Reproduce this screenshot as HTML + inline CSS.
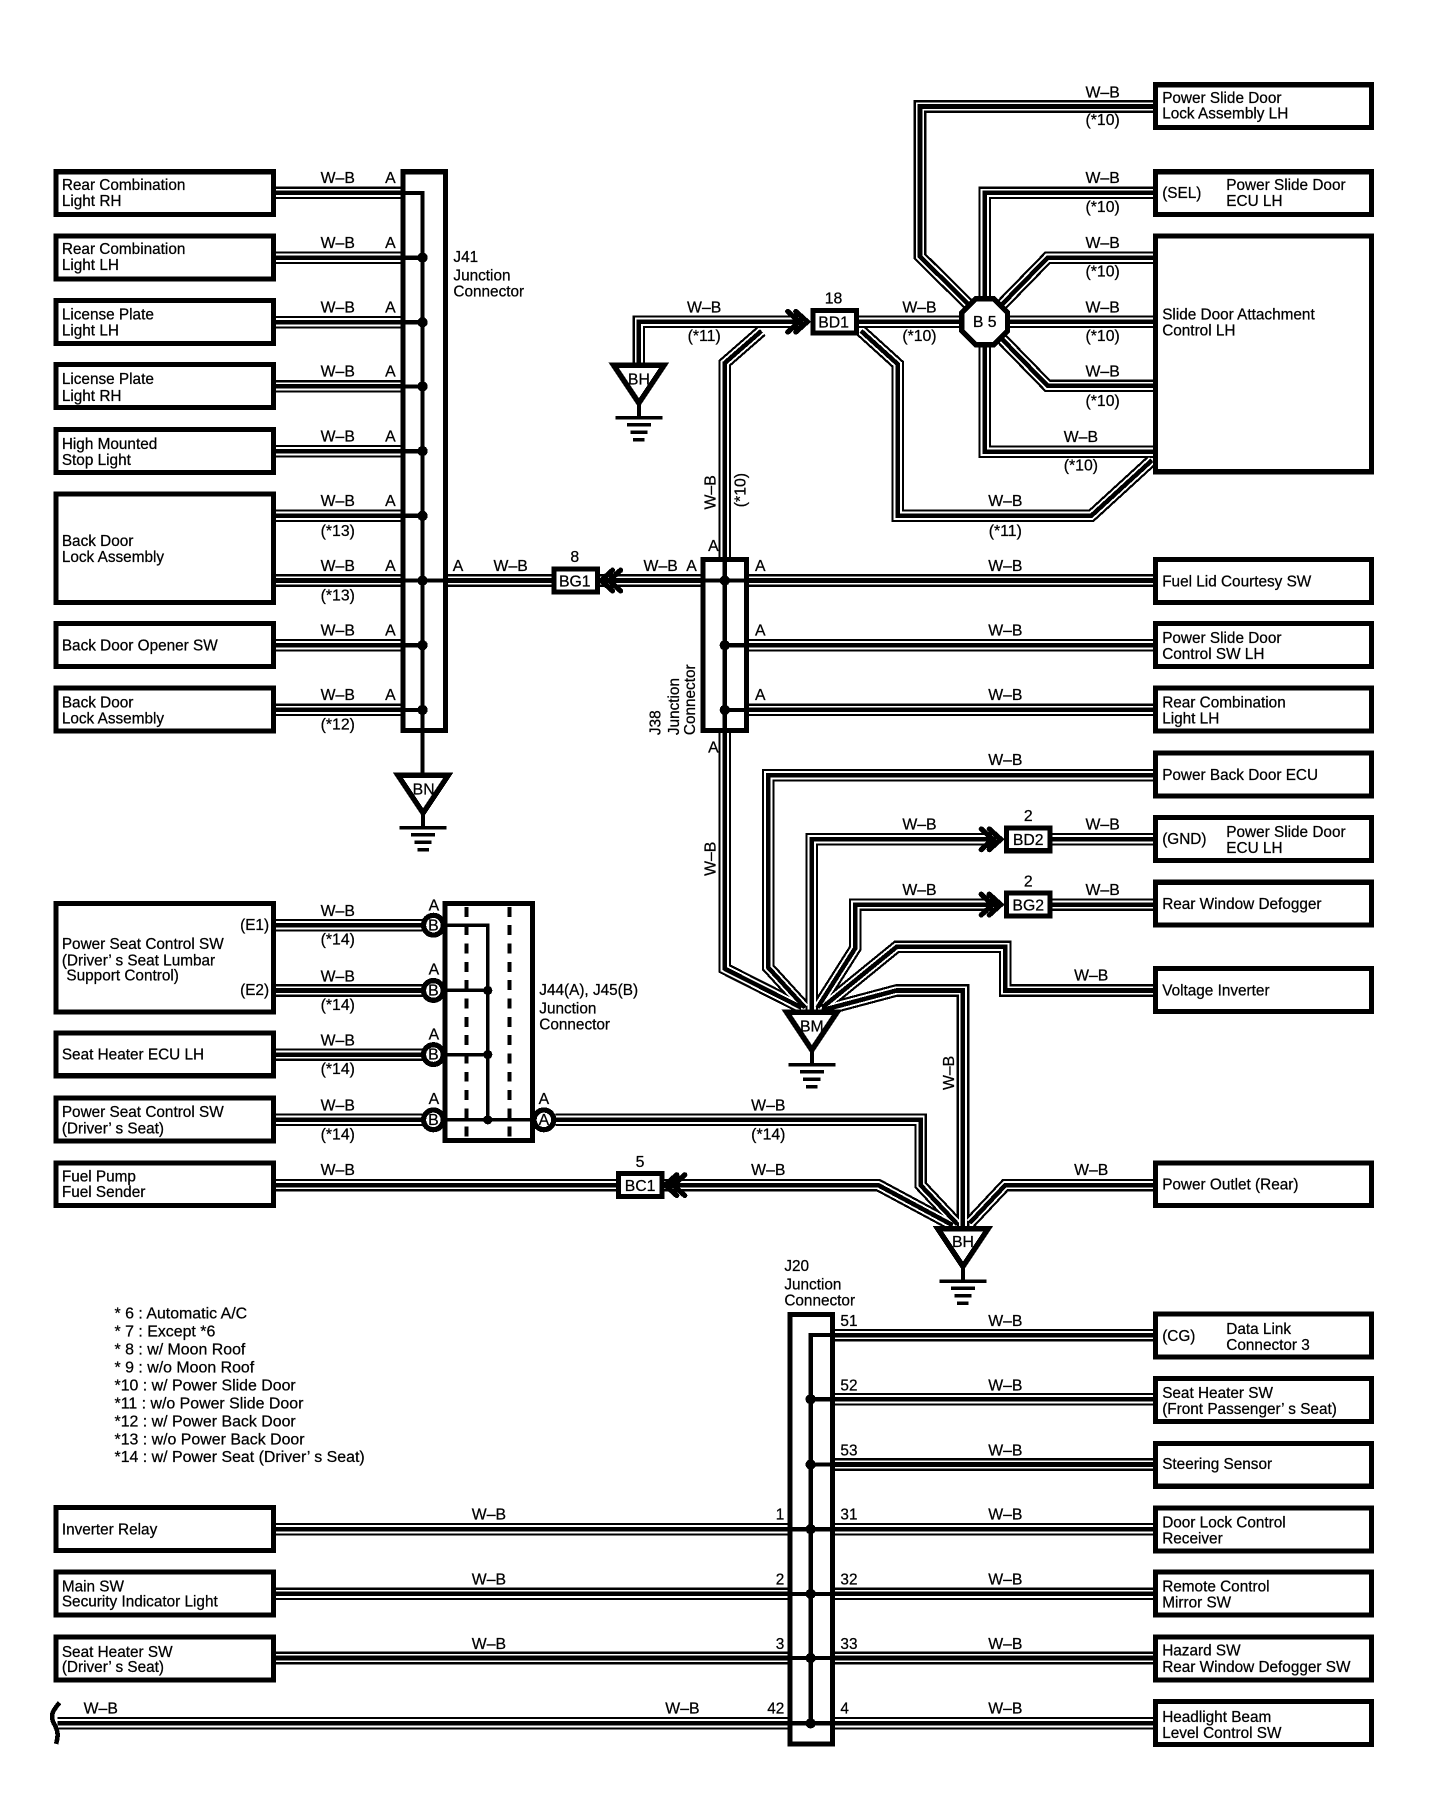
<!DOCTYPE html>
<html><head><meta charset="utf-8"><title>Wiring diagram</title>
<style>
html,body{margin:0;padding:0;background:#fff}
svg{display:block;font-size:13.4px;font-family:"Liberation Sans",sans-serif}
text{font-family:"Liberation Sans",sans-serif;fill:#000;stroke:#000;stroke-width:.22px}
.m{text-anchor:middle;font-size:13.8px}
.e{text-anchor:end}
.b{fill:#fff;stroke:#000;stroke-width:4.4}
.n{fill:none;stroke:#000;stroke-width:3.7}
.t{fill:#fff;stroke:#000;stroke-width:4.8;stroke-linejoin:miter}
.g{fill:none;stroke:#000}
.c{fill:none;stroke:#000;stroke-width:4.6;stroke-linecap:round}
.r{fill:#fff;stroke:#000;stroke-width:4.6}
.l{font-size:13.9px}
</style></head><body>
<svg xmlns="http://www.w3.org/2000/svg" width="1456" height="1796" viewBox="0 0 1271.6 1568.5" preserveAspectRatio="none" shape-rendering="crispEdges">
<defs>
<g id="w" fill="none" stroke-linejoin="miter" stroke-miterlimit="10">
<path d="M239 168.5H352M239 225H352M239 281.5H352M239 337.5H352M239 394H352M239 450.5H352M239 507H352M239 563.5H352M239 620H352"/>
<path d="M389 507H482M522 507H614"/>
<path d="M652 507H1009M652 563.5H1009M652 620H1009"/>
<path d="M558 318V281H700"/>
<path d="M633 488V317L665 289"/>
<path d="M748 281H842M880 281H1009"/>
<path d="M1009 93H803.5V224L845 265"/>
<path d="M1009 168.5H860V262"/>
<path d="M860 300V394.5H1009"/>
<path d="M875 266L915 225H1009"/>
<path d="M875 296L915 337H1009"/>
<path d="M752 289L784 318V450.5H953L1006 402"/>
<path d="M633 638V846L700 880"/>
<path d="M1009 677H671V845L703 880"/>
<path d="M709 882V733H870M917 733H1009"/>
<path d="M714 880L747 828V790H870M917 790H1009"/>
<path d="M718 880L783 827H878V865H1009"/>
<path d="M719 882L783 865H841V1072"/>
<path d="M239 808H370M239 865H370M239 921H370M239 978H370"/>
<path d="M485 978H804V1035L836 1069"/>
<path d="M239 1035H538M578 1035H767L832 1070"/>
<path d="M1009 1035H878L847 1068"/>
<path d="M727 1166H1009M727 1222H1009M727 1279H1009M727 1335.5H1009M727 1392H1009M727 1448H1009M727 1505H1009"/>
<path d="M239 1335.5H690M239 1392H690M239 1448H690M50 1505H690"/>
</g>
<g id="ch">
<path class="c" d="M-17 -9L-7 0L-17 9"/>
<path class="c" d="M-10 -9L0 0L-10 9"/>
</g>
<g id="gnd">
<polygon class="t" points="-22,0 22,0 0,33"/>
<path class="g" stroke-width="3.4" d="M0 33V46"/>
<path class="g" stroke-width="3" d="M-20.5 46H20.5M-10.5 52H10.5M-7.5 58.5H7.5M-5 65H5"/>
</g>
</defs>
<rect x="0" y="0" width="1271.6" height="1568.5" fill="#fff"/>

<use href="#w" stroke="#000" stroke-width="11"/>
<use href="#w" stroke="#fff" stroke-width="7.2"/>
<use href="#w" stroke="#000" stroke-width="4"/>

<!-- left boxes -->
<rect class="b" x="49" y="150" width="190" height="37.5"/>
<rect class="b" x="49" y="206" width="190" height="37.5"/>
<rect class="b" x="49" y="262.5" width="190" height="37.5"/>
<rect class="b" x="49" y="318.5" width="190" height="37.5"/>
<rect class="b" x="49" y="375" width="190" height="37.5"/>
<rect class="b" x="49" y="431.5" width="190" height="94.5"/>
<rect class="b" x="49" y="544.5" width="190" height="37.5"/>
<rect class="b" x="49" y="601" width="190" height="37.5"/>
<rect class="b" x="49" y="789" width="190" height="95"/>
<rect class="b" x="49" y="902" width="190" height="37.5"/>
<rect class="b" x="49" y="959" width="190" height="37.5"/>
<rect class="b" x="49" y="1015.5" width="190" height="37.5"/>
<rect class="b" x="49" y="1316.5" width="190" height="37.5"/>
<rect class="b" x="49" y="1373" width="190" height="37.5"/>
<rect class="b" x="49" y="1429.5" width="190" height="37.5"/>

<!-- right boxes -->
<rect class="b" x="1009" y="74" width="189" height="37.5"/>
<rect class="b" x="1009" y="150" width="189" height="37.5"/>
<rect class="b" x="1009" y="206" width="189" height="206"/>
<rect class="b" x="1009" y="488.5" width="189" height="37.5"/>
<rect class="b" x="1009" y="544.5" width="189" height="37.5"/>
<rect class="b" x="1009" y="601" width="189" height="37.5"/>
<rect class="b" x="1009" y="657.5" width="189" height="37.5"/>
<rect class="b" x="1009" y="714" width="189" height="37.5"/>
<rect class="b" x="1009" y="770.5" width="189" height="37.5"/>
<rect class="b" x="1009" y="846" width="189" height="37.5"/>
<rect class="b" x="1009" y="1015.5" width="189" height="37.5"/>
<rect class="b" x="1009" y="1147.5" width="189" height="37.5"/>
<rect class="b" x="1009" y="1204" width="189" height="37.5"/>
<rect class="b" x="1009" y="1260.5" width="189" height="37.5"/>
<rect class="b" x="1009" y="1317" width="189" height="37.5"/>
<rect class="b" x="1009" y="1373" width="189" height="37.5"/>
<rect class="b" x="1009" y="1429.5" width="189" height="37.5"/>
<rect class="b" x="1009" y="1486" width="189" height="37.5"/>

<!-- J41 -->
<rect class="b" x="352" y="150" width="37" height="488"/>
<path class="n" d="M352 168.5H369V680M352 225H369M352 281.5H369M352 337.5H369M352 394H369M352 450.5H369M352 507H389M352 563.5H369M352 620H369"/>
<g fill="#000">
<circle cx="369" cy="225" r="4.5"/><circle cx="369" cy="281.5" r="4.5"/><circle cx="369" cy="337.5" r="4.5"/><circle cx="369" cy="394" r="4.5"/><circle cx="369" cy="450.5" r="4.5"/><circle cx="369" cy="507" r="4.5"/><circle cx="369" cy="563.5" r="4.5"/><circle cx="369" cy="620" r="4.5"/>
</g>

<!-- J38 -->
<rect class="b" x="614" y="488.5" width="38" height="149.5"/>
<path class="n" d="M633 488V638M614 507H652M633 563.5H652M633 620H652"/>
<g fill="#000"><circle cx="633" cy="507" r="4.5"/><circle cx="633" cy="563.5" r="4.5"/><circle cx="633" cy="620" r="4.5"/></g>

<!-- J44/J45 -->
<rect class="b" x="388.5" y="789" width="76.5" height="207"/>
<path class="g" stroke-width="3.6" stroke-dasharray="8.7 7.3" d="M407.5 792V994M445 792V994"/>
<path class="g" stroke-width="3" d="M388 808H426V978M388 865H426M388 921H426M388 978H465"/>
<g fill="#000"><circle cx="426" cy="865" r="4"/><circle cx="426" cy="921" r="4"/><circle cx="426" cy="978" r="4"/></g>
<circle class="r" cx="378.5" cy="808" r="8.6"/>
<circle class="r" cx="378.5" cy="865" r="8.6"/>
<circle class="r" cx="378.5" cy="921" r="8.6"/>
<circle class="r" cx="378.5" cy="978" r="8.6"/>
<circle class="r" cx="475" cy="978" r="8.6"/>

<!-- J20 -->
<rect class="b" x="690" y="1148" width="37" height="375"/>
<path class="n" d="M727 1166H708V1505M708 1222H727M708 1279H727M690 1335.5H727M690 1392H727M690 1448H727M690 1505H727"/>
<g fill="#000"><circle cx="708" cy="1222" r="4.5"/><circle cx="708" cy="1279" r="4.5"/><circle cx="708" cy="1335.5" r="4.5"/><circle cx="708" cy="1392" r="4.5"/><circle cx="708" cy="1448" r="4.5"/><circle cx="708" cy="1505" r="4.5"/></g>

<!-- inline connectors -->
<rect class="b" x="710" y="271" width="38" height="20"/>
<rect class="b" x="484" y="497" width="38" height="20"/>
<rect class="b" x="879" y="723" width="38" height="20"/>
<rect class="b" x="879" y="780" width="38" height="20"/>
<rect class="b" x="540" y="1025" width="38" height="20"/>
<use href="#ch" transform="translate(705,281)"/>
<use href="#ch" transform="translate(874,733)"/>
<use href="#ch" transform="translate(874,790)"/>
<use href="#ch" transform="translate(525,507) scale(-1,1)"/>
<use href="#ch" transform="translate(581,1035) scale(-1,1)"/>

<!-- octagon -->
<polygon class="r" stroke-width="5" points="852,261 868,261 880,273 880,289 868,301 852,301 840,289 840,273"/>

<!-- grounds -->
<use href="#gnd" transform="translate(558,319)"/>
<use href="#gnd" transform="translate(369.5,677)"/>
<use href="#gnd" transform="translate(709,884)"/>
<use href="#gnd" transform="translate(841,1073)"/>

<!-- squiggle -->
<path class="g" stroke-width="4" d="M52 1487C45 1495 44 1499 47 1505C51 1512 51 1516 49 1523"/>

<!-- box text -->
<text x="54" y="166">Rear Combination</text><text x="54" y="180">Light RH</text>
<text x="54" y="222">Rear Combination</text><text x="54" y="236">Light LH</text>
<text x="54" y="279">License Plate</text><text x="54" y="293">Light LH</text>
<text x="54" y="335.5">License Plate</text><text x="54" y="350">Light RH</text>
<text x="54" y="392">High Mounted</text><text x="54" y="406">Stop Light</text>
<text x="54" y="477">Back Door</text><text x="54" y="491">Lock Assembly</text>
<text x="54" y="568">Back Door Opener SW</text>
<text x="54" y="618">Back Door</text><text x="54" y="632">Lock Assembly</text>
<text x="54" y="829">Power Seat Control SW</text><text x="54" y="843">(Driver’ s Seat Lumbar</text><text x="58" y="856.5">Support Control)</text>
<text x="235" y="812" class="e">(E1)</text><text x="235" y="869" class="e">(E2)</text>
<text x="54" y="925.5">Seat Heater ECU LH</text>
<text x="54" y="975.5">Power Seat Control SW</text><text x="54" y="990">(Driver’ s Seat)</text>
<text x="54" y="1032">Fuel Pump</text><text x="54" y="1045.5">Fuel Sender</text>
<text x="54" y="1340">Inverter Relay</text>
<text x="54" y="1390">Main SW</text><text x="54" y="1403">Security Indicator Light</text>
<text x="54" y="1447">Seat Heater SW</text><text x="54" y="1460">(Driver’ s Seat)</text>

<text x="1015" y="90">Power Slide Door</text><text x="1015" y="103.5">Lock Assembly LH</text>
<text x="1015" y="173">(SEL)</text><text x="1071" y="166">Power Slide Door</text><text x="1071" y="180">ECU LH</text>
<text x="1015" y="279">Slide Door Attachment</text><text x="1015" y="293">Control LH</text>
<text x="1015" y="512">Fuel Lid Courtesy SW</text>
<text x="1015" y="561.5">Power Slide Door</text><text x="1015" y="575.5">Control SW LH</text>
<text x="1015" y="618">Rear Combination</text><text x="1015" y="632">Light LH</text>
<text x="1015" y="681">Power Back Door ECU</text>
<text x="1015" y="737">(GND)</text><text x="1071" y="731">Power Slide Door</text><text x="1071" y="745">ECU LH</text>
<text x="1015" y="794">Rear Window Defogger</text>
<text x="1015" y="869.5">Voltage Inverter</text>
<text x="1015" y="1039">Power Outlet (Rear)</text>
<text x="1015" y="1171">(CG)</text><text x="1071" y="1165">Data Link</text><text x="1071" y="1179">Connector 3</text>
<text x="1015" y="1221">Seat Heater SW</text><text x="1015" y="1235">(Front Passenger’ s Seat)</text>
<text x="1015" y="1283">Steering Sensor</text>
<text x="1015" y="1334">Door Lock Control</text><text x="1015" y="1348">Receiver</text>
<text x="1015" y="1390">Remote Control</text><text x="1015" y="1404">Mirror SW</text>
<text x="1015" y="1446">Hazard SW</text><text x="1015" y="1460">Rear Window Defogger SW</text>
<text x="1015" y="1504">Headlight Beam</text><text x="1015" y="1518">Level Control SW</text>

<!-- junction labels -->
<text x="396" y="229">J41</text><text x="396" y="245">Junction</text><text x="396" y="259">Connector</text>
<text x="471" y="869">J44(A), J45(B)</text><text x="471" y="885">Junction</text><text x="471" y="899">Connector</text>
<text x="685" y="1110">J20</text><text x="685" y="1126">Junction</text><text x="685" y="1140">Connector</text>
<text transform="translate(577,642) rotate(-90)">J38</text>
<text transform="translate(593,642) rotate(-90)">Junction</text>
<text transform="translate(607,642) rotate(-90)">Connector</text>

<!-- connector labels -->
<text x="728" y="286" class="m">BD1</text><text x="728" y="265" class="m">18</text>
<text x="502" y="512" class="m">BG1</text><text x="502" y="491" class="m">8</text>
<text x="898" y="738" class="m">BD2</text><text x="898" y="717" class="m">2</text>
<text x="898" y="795" class="m">BG2</text><text x="898" y="774" class="m">2</text>
<text x="559" y="1040" class="m">BC1</text><text x="559" y="1019" class="m">5</text>
<text x="860" y="285.5" class="m">B 5</text>
<text x="558" y="336" class="m">BH</text>
<text x="370" y="694" class="m">BN</text>
<text x="709" y="901" class="m">BM</text>
<text x="841" y="1089" class="m">BH</text>
<text x="378.5" y="812.5" class="m">B</text><text x="378.5" y="869.5" class="m">B</text><text x="378.5" y="925.5" class="m">B</text><text x="378.5" y="982.5" class="m">B</text><text x="475" y="982.5" class="m">A</text>
<text x="379" y="795" class="m">A</text><text x="379" y="851" class="m">A</text><text x="379" y="908" class="m">A</text><text x="379" y="964" class="m">A</text><text x="475" y="964" class="m">A</text>

<!-- W-B left -->
<g class="m">
<text class="m" x="295" y="160">W–B</text><text class="m" x="295" y="216.5">W–B</text><text class="m" x="295" y="273">W–B</text><text class="m" x="295" y="329">W–B</text><text class="m" x="295" y="385.5">W–B</text><text class="m" x="295" y="442">W–B</text><text class="m" x="295" y="498.5">W–B</text><text class="m" x="295" y="555">W–B</text><text class="m" x="295" y="611.5">W–B</text>
<text class="m" x="295" y="468">(*13)</text><text class="m" x="295" y="524.5">(*13)</text><text class="m" x="295" y="637">(*12)</text>
<text class="m" x="341" y="160">A</text><text class="m" x="341" y="216.5">A</text><text class="m" x="341" y="273">A</text><text class="m" x="341" y="329">A</text><text class="m" x="341" y="385.5">A</text><text class="m" x="341" y="442">A</text><text class="m" x="341" y="498.5">A</text><text class="m" x="341" y="555">A</text><text class="m" x="341" y="611.5">A</text>
<text class="m" x="400" y="498.5">A</text><text class="m" x="446" y="498.5">W–B</text><text class="m" x="577" y="498.5">W–B</text><text class="m" x="604" y="498.5">A</text>
<text class="m" x="623" y="481">A</text><text class="m" x="623" y="657">A</text>
<text class="m" x="664" y="498.5">A</text><text class="m" x="664" y="555">A</text><text class="m" x="664" y="611.5">A</text>
<text class="m" x="878" y="498.5">W–B</text><text class="m" x="878" y="555">W–B</text><text class="m" x="878" y="611.5">W–B</text><text class="m" x="878" y="668">W–B</text>
<text class="m" x="878" y="442">W–B</text><text class="m" x="878" y="468">(*11)</text>
<text class="m" x="615" y="273">W–B</text><text class="m" x="615" y="298">(*11)</text>
<text class="m" x="803" y="273">W–B</text><text class="m" x="803" y="298">(*10)</text>
<text class="m" x="963" y="85">W–B</text><text class="m" x="963" y="109">(*10)</text>
<text class="m" x="963" y="160">W–B</text><text class="m" x="963" y="185">(*10)</text>
<text class="m" x="963" y="216.5">W–B</text><text class="m" x="963" y="241.5">(*10)</text>
<text class="m" x="963" y="273">W–B</text><text class="m" x="963" y="298">(*10)</text>
<text class="m" x="963" y="329">W–B</text><text class="m" x="963" y="354.5">(*10)</text>
<text class="m" x="944" y="386">W–B</text><text class="m" x="944" y="411">(*10)</text>
<text class="m" x="803" y="724.5">W–B</text><text class="m" x="963" y="724.5">W–B</text>
<text class="m" x="803" y="781.5">W–B</text><text class="m" x="963" y="781.5">W–B</text>
<text class="m" x="953" y="856.5">W–B</text>
<text class="m" x="295" y="800">W–B</text><text class="m" x="295" y="825">(*14)</text>
<text class="m" x="295" y="857">W–B</text><text class="m" x="295" y="882">(*14)</text>
<text class="m" x="295" y="913">W–B</text><text class="m" x="295" y="938">(*14)</text>
<text class="m" x="295" y="970">W–B</text><text class="m" x="295" y="995">(*14)</text>
<text class="m" x="671" y="970">W–B</text><text class="m" x="671" y="995">(*14)</text>
<text class="m" x="295" y="1026">W–B</text><text class="m" x="671" y="1026">W–B</text><text class="m" x="953" y="1026">W–B</text>
<text class="m" x="878" y="1158">W–B</text><text class="m" x="878" y="1214.5">W–B</text><text class="m" x="878" y="1271">W–B</text><text class="m" x="878" y="1327">W–B</text><text class="m" x="878" y="1384">W–B</text><text class="m" x="878" y="1440">W–B</text><text class="m" x="878" y="1496.5">W–B</text>
<text class="m" x="427" y="1327">W–B</text><text class="m" x="427" y="1384">W–B</text><text class="m" x="427" y="1440">W–B</text>
<text class="m" x="88" y="1496.5">W–B</text><text class="m" x="596" y="1496.5">W–B</text>
</g>
<text class="e" x="685" y="1327">1</text><text class="e" x="685" y="1384">2</text><text class="e" x="685" y="1440">3</text><text class="e" x="685" y="1496.5">42</text>
<text x="734" y="1158">51</text><text x="734" y="1214.5">52</text><text x="734" y="1271">53</text><text x="734" y="1327">31</text><text x="734" y="1384">32</text><text x="734" y="1440">33</text><text x="734" y="1496.5">4</text>

<text class="m" transform="translate(625,430) rotate(-90)">W–B</text>
<text class="m" transform="translate(651,428) rotate(-90)">(*10)</text>
<text class="m" transform="translate(625,750) rotate(-90)">W–B</text>
<text class="m" transform="translate(833,937) rotate(-90)">W–B</text>

<!-- legend -->
<g class="l">
<text x="100" y="1151.5">* 6 : Automatic A/C</text>
<text x="100" y="1167">* 7 : Except *6</text>
<text x="100" y="1183">* 8 : w/ Moon Roof</text>
<text x="100" y="1198.5">* 9 : w/o Moon Roof</text>
<text x="100" y="1214.5">*10 : w/ Power Slide Door</text>
<text x="100" y="1230">*11 : w/o Power Slide Door</text>
<text x="100" y="1246">*12 : w/ Power Back Door</text>
<text x="100" y="1261.5">*13 : w/o Power Back Door</text>
<text x="100" y="1277">*14 : w/ Power Seat (Driver’ s Seat)</text>
</g>
</svg>
</body></html>
